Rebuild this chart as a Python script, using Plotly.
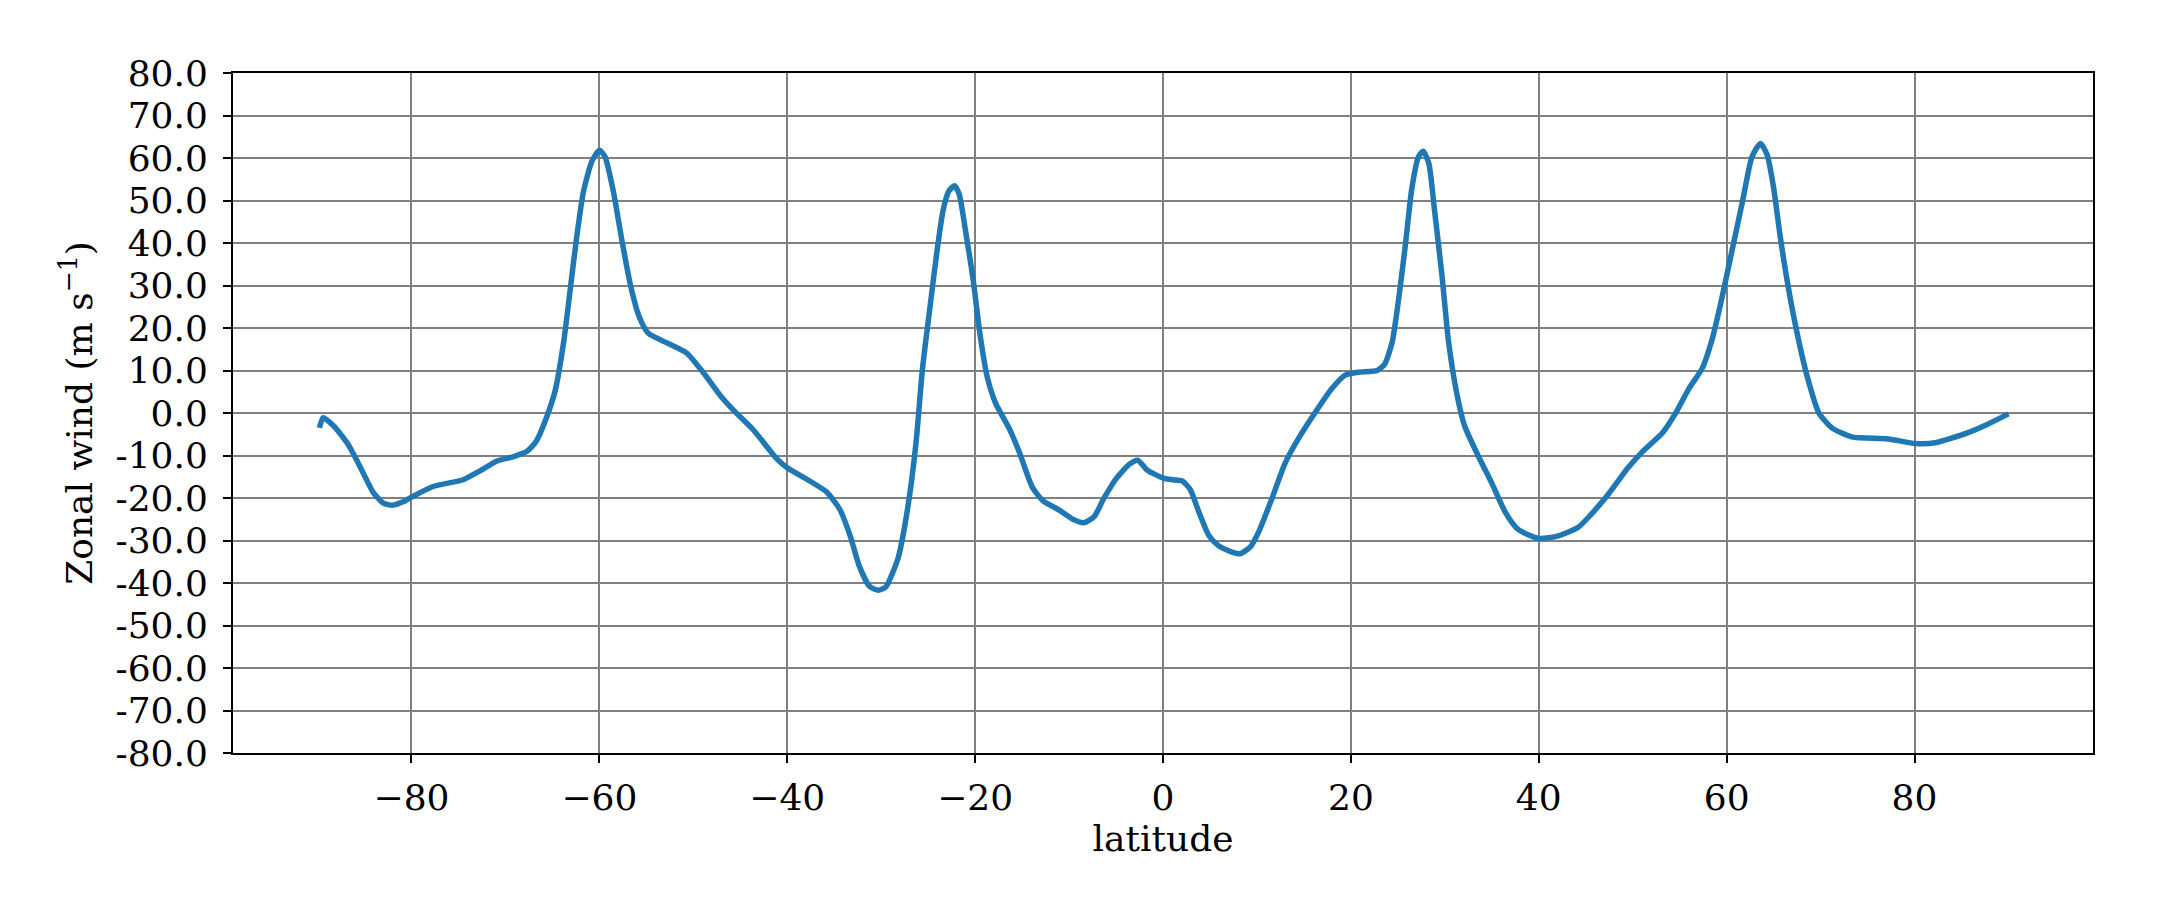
import plotly.graph_objects as go

# zonal-mean zonal wind
lat = [-89.8, -89.4, -88.3, -86.8, -85.3, -84.1, -83.0, -82.0, -80.9, -80.0,
       -77.7, -74.5, -72.7, -70.9, -69.2, -67.7, -66.7, -65.6, -64.7, -63.8,
       -63.1, -62.4, -61.7, -60.8, -60.0, -59.4, -58.5, -57.6, -56.7, -55.8,
       -54.8, -52.8, -50.7, -48.9, -47.2, -45.7, -43.6, -41.1, -40.0, -37.6,
       -35.8, -34.4, -33.3, -32.3, -31.2, -30.3, -29.5, -28.2, -27.2, -26.3,
       -25.6, -24.8, -24.1, -23.4, -22.8, -22.2, -21.7, -21.0, -20.2, -19.5,
       -18.7, -17.8, -16.4, -15.3, -13.9, -12.8, -11.0, -9.6, -8.4, -7.3,
       -6.3, -5.0, -3.6, -2.7, -1.7, 0.0, 1.0, 2.05, 2.9, 3.8,
       4.9, 5.9, 7.2, 8.2, 9.3, 10.2, 11.6, 13.0, 14.4, 16.2,
       18.0, 19.4, 20.8, 22.8, 23.6, 24.4, 25.1, 25.8, 26.5, 27.2,
       27.7, 28.3, 28.9, 29.7, 30.4, 31.3, 32.1, 33.6, 35.0, 36.4,
       37.8, 40.0, 42.1, 44.2, 45.6, 47.4, 49.5, 51.0, 53.2, 54.6,
       56.0, 57.4, 58.5, 59.5, 60.6, 61.7, 62.7, 63.6, 64.3, 65.0,
       65.7, 66.6, 67.5, 68.6, 69.8, 71.2, 73.3, 77.2, 80.1, 82.2,
       85.7, 87.9, 90.0]
u = [-3.5, -1.1, -3.0, -7.2, -13.4, -18.6, -21.2, -21.7, -20.9, -19.8,
     -17.3, -15.7, -13.6, -11.3, -10.3, -9.0, -6.6, -0.9, 5.3, 16.7,
     29.1, 41.6, 52.0, 59.2, 61.8, 60.3, 52.0, 40.6, 30.2, 22.9,
     18.8, 16.5, 14.1, 9.4, 4.3, 0.6, -4.0, -10.8, -12.9, -16.0,
     -18.6, -22.7, -28.9, -36.2, -40.9, -41.7, -40.9, -34.1, -22.7, -7.2,
     10.5, 25.0, 37.4, 47.8, 52.2, 53.5, 51.5, 42.6, 31.2, 18.8,
     8.4, 2.2, -3.5, -9.2, -17.5, -20.6, -22.9, -25.0, -25.8, -24.3,
     -20.1, -15.5, -12.1, -11.1, -13.4, -15.3, -15.7, -16.0, -18.0, -23.2,
     -28.9, -31.2, -32.6, -33.1, -31.5, -27.9, -20.1, -11.8, -6.1, 0.1,
     5.8, 8.9, 9.6, 10.0, 11.5, 16.7, 27.1, 39.5, 53.0, 60.3,
     61.6, 58.7, 47.8, 32.3, 16.7, 4.3, -3.0, -10.3, -16.5, -23.2,
     -27.4, -29.5, -28.9, -26.9, -23.8, -19.1, -12.9, -9.2, -4.6, 0.1,
     5.8, 10.5, 17.7, 27.1, 38.5, 49.9, 60.3, 63.4, 60.8, 53.0,
     41.6, 29.1, 18.8, 8.4, 0.1, -3.5, -5.6, -6.1, -7.2, -7.0,
     -4.6, -2.5, -0.2]

x_ticks = [-80, -60, -40, -20, 0, 20, 40, 60, 80]
x_labels = ['\u221280', '\u221260', '\u221240', '\u221220', '0', '20', '40', '60', '80']
y_ticks = list(range(-80, 81, 10))
y_labels = ['%.1f' % v for v in y_ticks]

font = 'DejaVu Serif'

fig = go.Figure(data=go.Scatter(x=lat, y=u, mode='lines',
                                line=dict(color='#1f77b4', width=5.5,
                                          shape='spline', smoothing=0.6),
                                showlegend=False))

axis_style = dict(showline=True, linecolor='black', linewidth=2, mirror=True,
                  ticks='outside', ticklen=8, tickwidth=2, tickcolor='black',
                  showgrid=True, gridcolor='#808080', gridwidth=1.5,
                  zeroline=False,
                  tickfont=dict(family=font, size=36, color='black'))

fig.update_xaxes(range=[-99, 99], tickvals=x_ticks, ticktext=x_labels,
                 title=dict(text='latitude', standoff=9,
                            font=dict(family=font, size=36, color='black')),
                 ticklabelstandoff=4, **axis_style)
fig.update_yaxes(range=[-80, 80], tickvals=y_ticks, ticktext=y_labels,
                 title=dict(text='Zonal wind (m s<sup>\u22121</sup>)', standoff=12,
                            font=dict(family=font, size=36, color='black')),
                 ticklabelstandoff=8, **axis_style)

# page body adds an 8px offset, so the figure is 8px smaller each way
fig.update_layout(
    width=2154, height=915,
    margin=dict(l=225, r=69, t=65, b=170),
    plot_bgcolor='white',
    paper_bgcolor='white',
    font=dict(family=font, color='black')
)
fig.write_html('out.html')
